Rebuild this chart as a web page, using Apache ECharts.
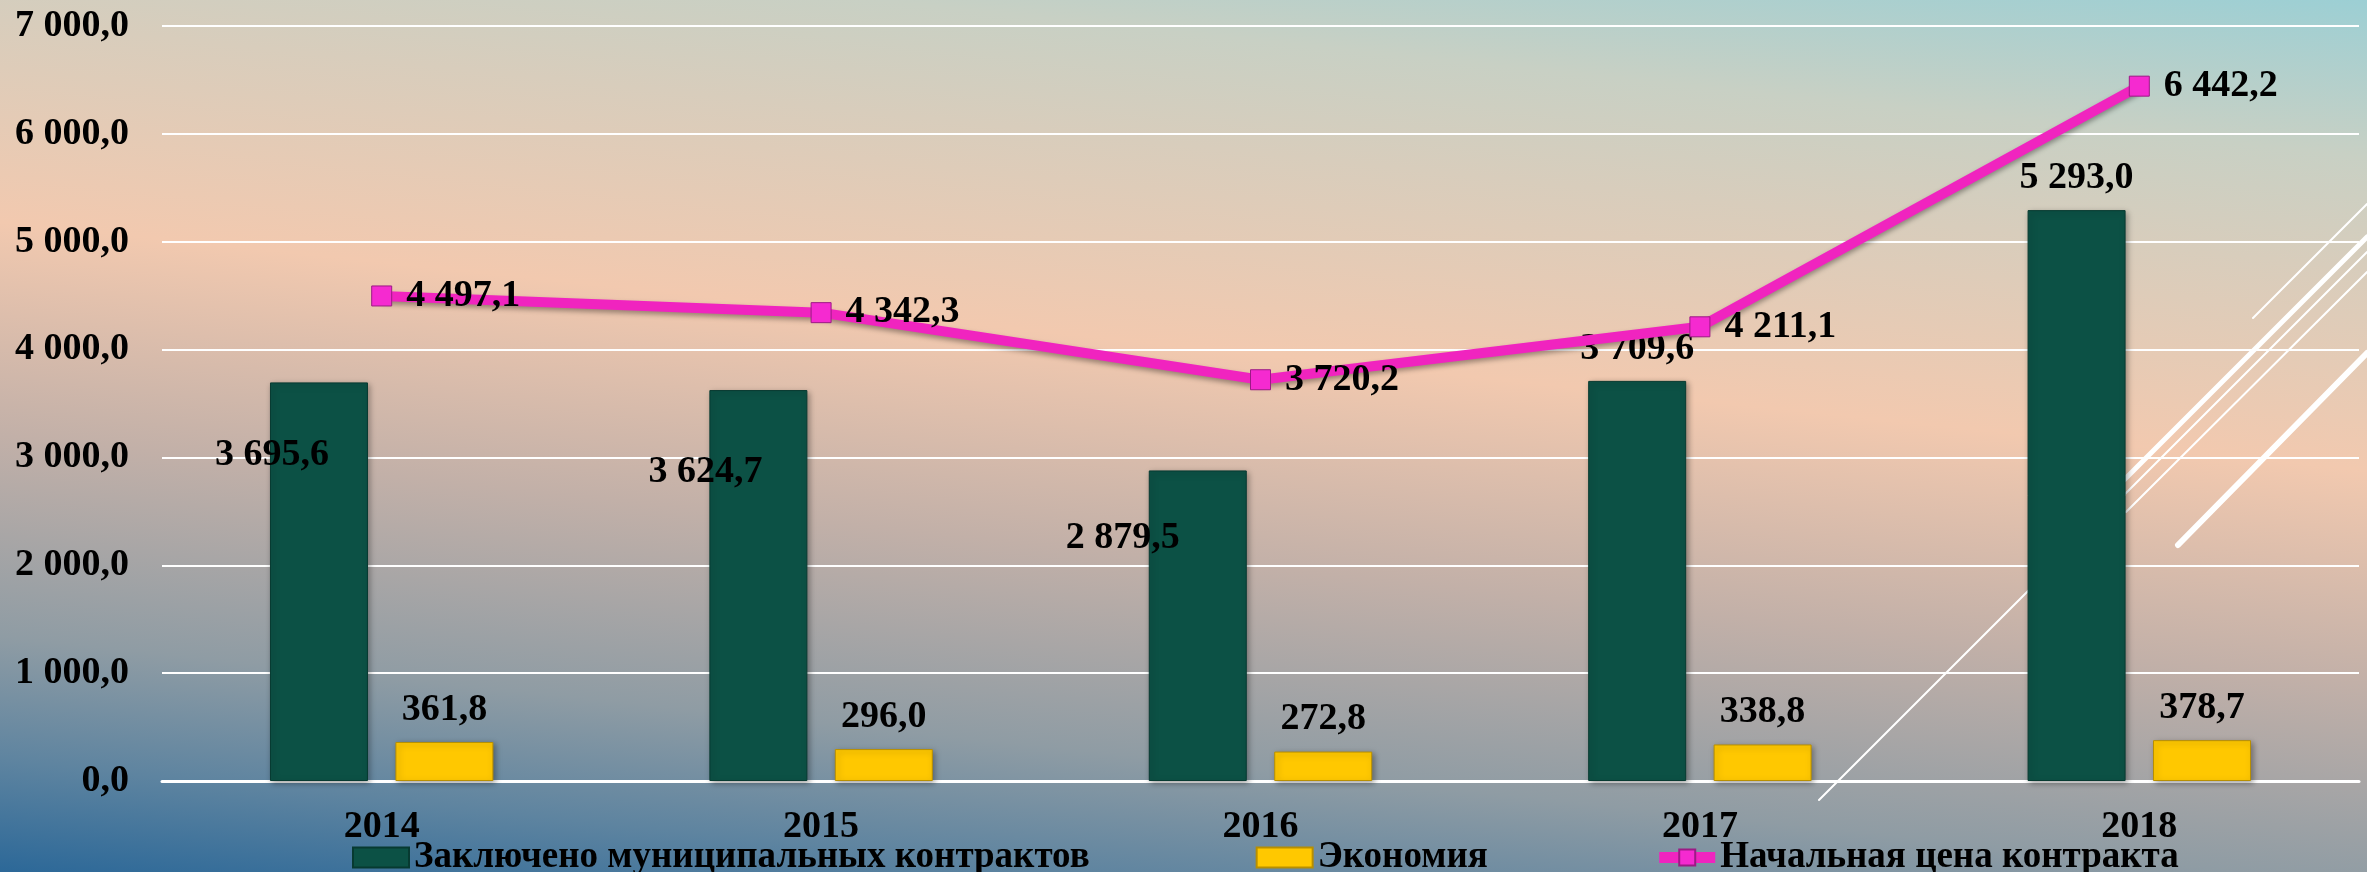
<!DOCTYPE html>
<html>
<head>
<meta charset="utf-8">
<title>Муниципальные контракты</title>
<script src="https://cdn.jsdelivr.net/npm/echarts@6/dist/echarts.min.js"></script>
<style>
    html, body {
        margin: 0;
        padding: 0;
    }
    #chart {
        width: 2367px;
        height: 872px;
        background: linear-gradient(186deg, #9ccfd4 0%, #c8d0c4 14%, #d8cdbc 24%, #f2c9af 42%, #c2b0a8 61%, #8f9ca4 79%, #5e84a0 90%, #2c6898 100%);
    }
</style>
</head>
<body>
<div id="chart"></div>
<script>
// годы
const years = ['2014', '2015', '2016', '2017', '2018']
// Заключено муниципальных контрактов
const contracts = [3695.6, 3624.7, 2879.5, 3709.6, 5293.0]
// Экономия
const savings = [361.8, 296.0, 272.8, 338.8, 378.7]
// Начальная цена контракта
const initialPrice = [4497.1, 4342.3, 3720.2, 4211.1, 6442.2]
// шкала Y
const yMin = 0
const yMax = 7000
const yStep = 1000

// сдвиг подписей зелёных столбцов (как в исходной диаграмме)
const contractLabelShift = [[-47, 97], [-53, 106], [-75, 92], [0, -8], [0, -8]]

const FONT = "'Times New Roman', 'Liberation Serif', serif"

// 3695.6 -> "3 695,6"
const fmt = (v) => {
    const parts = Number(v).toFixed(1).split('.')
    return parts[0].replace(/\B(?=(\d{3})+(?!\d))/g, ' ') + ',' + parts[1]
}

const labelText = {
    color: '#000',
    fontFamily: FONT,
    fontWeight: 'bold',
    fontSize: 38
}

const myChart = echarts.init(document.getElementById('chart'))

// декоративные белые линии справа
const deco = [
    [1819, 800, 2367, 252, 2],
    [2110, 494, 2367, 237, 5],
    [2126, 512, 2367, 272, 2],
    [2178, 545, 2367, 353, 6],
    [2253, 318, 2367, 204, 2]
]

const option = {
    backgroundColor: 'transparent',
    animation: false,
    graphic: deco.map(d => ({
        type: 'line',
        z: 1,
        shape: { x1: d[0], y1: d[1], x2: d[2], y2: d[3] },
        style: { stroke: '#ffffff', lineWidth: d[4], lineCap: 'round' }
    })),
    grid: {
        left: 162,
        right: 8,
        top: 26,
        bottom: 91
    },
    legend: {
        left: 347,
        top: 834,
        itemWidth: 56,
        itemHeight: 20,
        itemGap: 166,
        textStyle: {
            color: '#000',
            fontFamily: FONT,
            fontWeight: 'bold',
            fontSize: 37
        },
        data: [
            { name: 'Заключено муниципальных контрактов', icon: 'rect' },
            { name: 'Экономия', icon: 'rect' },
            { name: 'Начальная цена контракта', lineStyle: { width: 11, color: '#f024bf' } }
        ]
    },
    xAxis: {
        type: 'category',
        data: years,
        axisLine: { lineStyle: { color: '#ffffff', width: 3 } },
        axisTick: { show: false },
        axisLabel: {
            margin: 27,
            color: '#000',
            fontFamily: FONT,
            fontWeight: 'bold',
            fontSize: 38
        }
    },
    yAxis: {
        type: 'value',
        min: yMin,
        max: yMax,
        interval: yStep,
        axisLine: { show: false },
        axisTick: { show: false },
        splitLine: { lineStyle: { color: '#ffffff', width: 2 } },
        axisLabel: {
            margin: 33,
            color: '#000',
            fontFamily: FONT,
            fontWeight: 'bold',
            fontSize: 38,
            formatter: fmt
        }
    },
    series: [
        {
            name: 'Заключено муниципальных контрактов',
            type: 'bar',
            z: 3,
            barWidth: 98,
            barGap: '28%',
            itemStyle: {
                color: '#0c5145',
                borderColor: '#073a31',
                borderWidth: 1,
                shadowColor: 'rgba(0,0,0,0.35)',
                shadowBlur: 6,
                shadowOffsetX: 2,
                shadowOffsetY: 2
            },
            label: Object.assign({ show: true, position: 'top', formatter: (p) => fmt(p.value) }, labelText),
            data: contracts.map((v, i) => ({ value: v, label: { offset: contractLabelShift[i] } }))
        },
        {
            name: 'Экономия',
            type: 'bar',
            z: 3,
            barWidth: 98,
            barGap: '28%',
            itemStyle: {
                color: '#ffc800',
                borderColor: '#b88f00',
                borderWidth: 1,
                shadowColor: 'rgba(0,0,0,0.35)',
                shadowBlur: 6,
                shadowOffsetX: 2,
                shadowOffsetY: 2
            },
            label: Object.assign({ show: true, position: 'top', offset: [0, -8], formatter: (p) => fmt(p.value) }, labelText),
            data: savings
        },
        {
            name: 'Начальная цена контракта',
            type: 'line',
            z: 4,
            symbol: 'rect',
            symbolSize: 20,
            lineStyle: {
                color: '#f024bf',
                width: 10,
                shadowColor: 'rgba(0,0,0,0.35)',
                shadowBlur: 5,
                shadowOffsetY: 3
            },
            itemStyle: {
                color: '#f52ad0',
                borderColor: '#9c1a85',
                borderWidth: 1
            },
            label: Object.assign({ show: true, position: 'right', distance: 14, formatter: (p) => fmt(p.value) }, labelText),
            data: initialPrice
        }
    ]
}
myChart.setOption(option)
</script>
</body>
</html>
